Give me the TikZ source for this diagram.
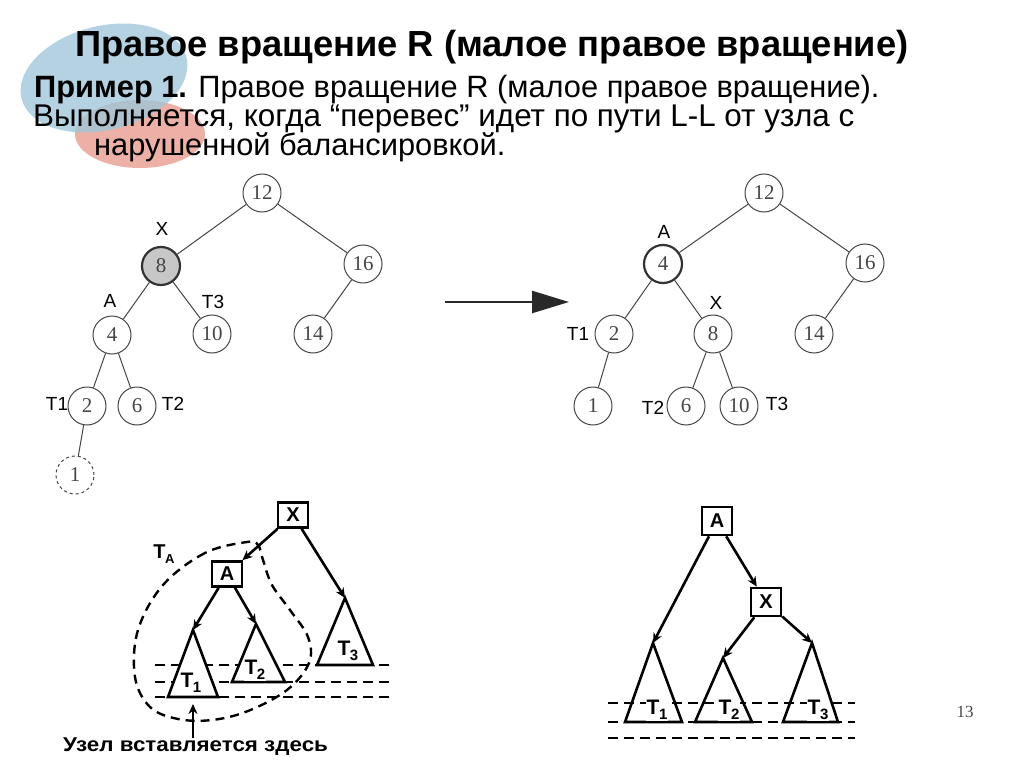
\documentclass[tikz,border=0pt]{standalone}
\usepackage{fontspec}
\setmainfont{Liberation Sans}
\newfontfamily\numfont{Liberation Serif}
\usetikzlibrary{arrows.meta}
\definecolor{ellblue}{RGB}{160,198,218}
\definecolor{ellpink}{RGB}{236,176,166}
\definecolor{numgray}{RGB}{70,70,70}
\definecolor{edgegray}{RGB}{70,70,70}
\definecolor{arrowgray}{RGB}{40,40,40}
\begin{document}
\begin{tikzpicture}[x=1pt,y=-1pt,
  tnode/.style={circle,draw=edgegray,line width=1pt,minimum size=38pt,inner sep=0pt,
     font=\numfont\fontsize{21}{21}\selectfont,text=numgray},
  tedge/.style={draw=edgegray,line width=1pt},
  tlabel/.style={font=\fontsize{19}{19}\selectfont,inner sep=0pt},
  bbox/.style={draw,line width=2.6pt,minimum width=30pt,minimum height=25pt,inner sep=0pt,
     font=\bfseries\fontsize{20}{20}\selectfont},
  barrow/.style={line width=2.6pt,-{Stealth[length=10pt,width=9pt]}},
  tri/.style={line width=2.6pt,line join=miter},
  lvl/.style={line width=2.6pt,dash pattern=on 10pt off 6pt},
  sublabel/.style={font=\bfseries\fontsize{21}{21}\selectfont,inner sep=1pt,fill=white}
]
\useasboundingbox (0,0) rectangle (1024,767);
\fill[white] (0,0) rectangle (1024,767);
% decorative ellipses
\fill[ellpink] (140,134) ellipse [x radius=65, y radius=34];
\fill[ellblue,opacity=0.78] (104,78) [rotate around={14:(104,78)}] ellipse [x radius=85, y radius=52];
% title
\node[anchor=base west,inner sep=0pt,font=\bfseries\fontsize{36.3}{38}\selectfont] (title) at (75,57) {Правое вращение R (малое правое вращение)};
\node[anchor=base west,inner sep=0pt,font=\fontsize{30.8}{31}\selectfont] (l1) at (34,98) {\textbf{Пример 1.} Правое вращение R (малое правое вращение).};
\node[anchor=base west,inner sep=0pt,font=\fontsize{31.4}{31}\selectfont] (l2) at (33,127) {Выполняется, когда “перевес” идет по пути L-L от узла с};
\node[anchor=base west,inner sep=0pt,font=\fontsize{30.8}{31}\selectfont] (l3) at (94,156) {нарушенной балансировкой.};
% left tree
\node[tnode] (a12) at (262,193) {12};
\node[tnode,fill=black!22,line width=2.2pt,draw=black!80] (a8) at (161,266) {8};
\node[tnode] (a16) at (363,264) {16};
\node[tnode] (a4) at (112,335) {4};
\node[tnode] (a10) at (212,334) {10};
\node[tnode] (a14) at (313,334) {14};
\node[tnode] (a2) at (87,406) {2};
\node[tnode] (a6) at (137,406) {6};
\node[tnode,dashed] (a1) at (75,475) {1};
\draw[tedge] (a12) -- (a8);
\draw[tedge] (a12) -- (a16);
\draw[tedge] (a8) -- (a4);
\draw[tedge] (a8) -- (a10);
\draw[tedge] (a16) -- (a14);
\draw[tedge] (a4) -- (a2);
\draw[tedge] (a4) -- (a6);
\draw[tedge] (a2) -- (a1);
\node[tlabel] (aX) at (162,229) {X};
\node[tlabel] (aA) at (110,301) {A};
\node[tlabel] (aT3) at (213,302) {T3};
\node[tlabel] (aT1) at (57,404) {T1};
\node[tlabel] (aT2) at (173,404) {T2};
% big arrow
\coordinate (arS) at (445,302);
\coordinate (arE) at (569,302);
\draw[arrowgray,line width=2.4pt,-{Triangle[length=37pt,width=22pt]}] (arS) -- (arE);
% right tree
\node[tnode] (b12) at (764,193) {12};
\node[tnode,line width=2.2pt,draw=black!80] (b4) at (663,264) {4};
\node[tnode] (b16) at (865,263) {16};
\node[tnode] (b2) at (614,334) {2};
\node[tnode] (b8) at (713,334) {8};
\node[tnode] (b14) at (814,334) {14};
\node[tnode] (b1) at (593,406) {1};
\node[tnode] (b6) at (686,406) {6};
\node[tnode] (b10) at (739,406) {10};
\draw[tedge] (b12) -- (b4);
\draw[tedge] (b12) -- (b16);
\draw[tedge] (b4) -- (b2);
\draw[tedge] (b4) -- (b8);
\draw[tedge] (b16) -- (b14);
\draw[tedge] (b2) -- (b1);
\draw[tedge] (b8) -- (b6);
\draw[tedge] (b8) -- (b10);
\node[tlabel] (bA) at (664,232) {A};
\node[tlabel] (bX) at (716,303) {X};
\node[tlabel] (bT1) at (578,334) {T1};
\node[tlabel] (bT2) at (653,408) {T2};
\node[tlabel] (bT3) at (777,404) {T3};
% bottom-left figure
\draw[lvl] (155,665) -- (393,665);
\draw[lvl] (155,682) -- (393,682);
\draw[lvl] (155,697) -- (393,697);
\draw[line width=2.4pt,dash pattern=on 9pt off 6pt] plot[smooth cycle,tension=0.6] coordinates {
 (247,542) (205,553) (163,585) (138,630) (135,677) (150,707) (178,719) (212,720)
 (248,711) (287,690) (309,663) (308,637) (290,610) (272,585) (263,560) (258,545)};
\node[bbox,fill=white] (cX) at (293,515) {X};
\node[bbox,fill=white] (cA) at (227,574) {A};
\coordinate (cT1) at (193,630);
\coordinate (cT2) at (256,624);
\coordinate (cT3) at (345,598);
\draw[tri,fill=white] (cT1) -- (168,697) -- (218,697) -- cycle;
\draw[tri,fill=white] (cT2) -- (232,682) -- (285,682) -- cycle;
\draw[tri,fill=white] (cT3) -- (317,665) -- (373,665) -- cycle;
\draw[barrow] (cX) -- (cA);
\draw[barrow] (cX) -- (cT3);
\draw[barrow] (cA) -- (cT1);
\draw[barrow] (cA) -- (cT2);
\node[sublabel] (cL1) at (191,683) {T\kern-0.5pt\raisebox{-5pt}{\fontsize{15}{15}\selectfont 1}};
\node[sublabel] (cL2) at (255,670) {T\kern-0.5pt\raisebox{-5pt}{\fontsize{15}{15}\selectfont 2}};
\node[sublabel] (cL3) at (348,651) {T\kern-0.5pt\raisebox{-5pt}{\fontsize{15}{15}\selectfont 3}};
\node[font=\bfseries\fontsize{20}{20}\selectfont,inner sep=0pt] (cTA) at (164,554) {T\kern-0.5pt\raisebox{-5pt}{\fontsize{13}{13}\selectfont A}};
\coordinate (insS) at (193,738);
\coordinate (insE) at (193,704);
\draw[line width=2.8pt,-{Stealth[length=10pt,width=9pt]}] (insS) -- (insE);
\node[anchor=base west,inner sep=0pt,xscale=1.12,font=\bfseries\fontsize{20}{20}\selectfont] (ins) at (63,751) {Узел вставляется здесь};
% bottom-right figure
\draw[lvl] (608,703) -- (855,703);
\draw[lvl] (608,722) -- (855,722);
\draw[lvl] (608,738) -- (855,738);
\node[bbox,fill=white,minimum height=28pt] (dA) at (717,521) {A};
\node[bbox,fill=white,minimum height=28pt] (dX) at (766,602) {X};
\coordinate (dT1) at (653,643);
\coordinate (dT2) at (723,658);
\coordinate (dT3) at (812,643);
\draw[tri] (dT1) -- (625,722) -- (682,722) -- cycle;
\draw[tri] (dT2) -- (695,722) -- (752,722) -- cycle;
\draw[tri] (dT3) -- (783,722) -- (838,722) -- cycle;
\draw[barrow] (dA) -- (dT1);
\draw[barrow] (dA) -- (dX);
\draw[barrow] (dX) -- (dT2);
\draw[barrow] (dX) -- (dT3);
\node[sublabel] (dL1) at (657,710) {T\kern-0.5pt\raisebox{-5pt}{\fontsize{15}{15}\selectfont 1}};
\node[sublabel] (dL2) at (729,710) {T\kern-0.5pt\raisebox{-5pt}{\fontsize{15}{15}\selectfont 2}};
\node[sublabel] (dL3) at (818,710) {T\kern-0.5pt\raisebox{-5pt}{\fontsize{15}{15}\selectfont 3}};
% page number
\node[font=\numfont\fontsize{17}{17}\selectfont,text=numgray,inner sep=0pt] (pg) at (965,712) {13};
\end{tikzpicture}
\end{document}
